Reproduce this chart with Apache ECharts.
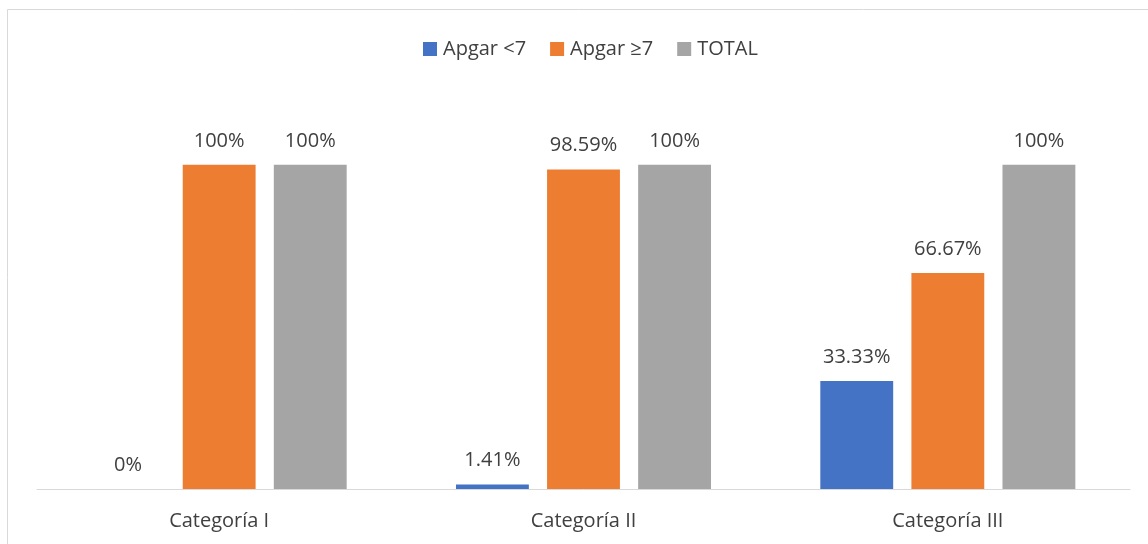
<!DOCTYPE html>
<html>
<head>
<meta charset="utf-8">
<script src="https://cdn.jsdelivr.net/npm/echarts@6/dist/echarts.min.js"></script>
<style>
  html, body { margin: 0; padding: 0; background: #fff; }
  #chart { width: 1148px; height: 544px; }
</style>
</head>
<body>
<div id="chart"></div>
<script>
// Categories and series values (percentages)
const categories = ['Categoría I', 'Categoría II', 'Categoría III'];
const apgarBajo = [0, 1.41, 33.33];
const apgarNormal = [100, 98.59, 66.67];
const total = [100, 100, 100];
const seriesNames = ['Apgar <7', 'Apgar ≥7', 'TOTAL'];
const colors = ['#4472C4', '#ED7D31', '#A5A5A5'];

const FONT = 'Open Sans';
const TEXT = '#404040';
const SIZE = 20;

const chart = echarts.init(document.getElementById('chart'), null, { renderer: 'canvas' });

function barSeries(name, data, color) {
  return {
    name: name,
    type: 'bar',
    data: data,
    barGap: '25%',
    barCategoryGap: '30%',
    itemStyle: { color: color },
    label: {
      show: true,
      position: 'top',
      distance: 14,
      color: TEXT,
      fontFamily: FONT,
      fontSize: SIZE,
      formatter: p => p.value + '%'
    }
  };
}

chart.setOption({
  animation: false,
  color: colors,
  textStyle: { fontFamily: FONT },
  graphic: [{
    type: 'rect',
    shape: { x: 7.5, y: 9.5, width: 1160, height: 560 },
    style: { fill: 'none', stroke: '#D9D9D9', lineWidth: 1 },
    silent: true
  }],
  legend: {
    top: 34,
    left: 418,
    itemWidth: 14,
    itemHeight: 14,
    itemGap: 24,
    itemStyle: { borderWidth: 0 },
    icon: 'rect',
    textStyle: { color: TEXT, fontSize: SIZE, fontFamily: FONT, padding: [0, 0, 0, 1] },
    data: seriesNames
  },
  grid: { left: 37, right: 18, top: 100, bottom: 55, containLabel: false },
  xAxis: {
    type: 'category',
    data: categories,
    axisLine: { lineStyle: { color: '#D9D9D9', width: 1 } },
    axisTick: { show: false },
    axisLabel: { color: TEXT, fontSize: SIZE, fontFamily: FONT, margin: 22 }
  },
  yAxis: {
    type: 'value',
    min: 0,
    max: 120,
    interval: 20,
    show: false,
    splitLine: { show: false }
  },
  series: [
    barSeries(seriesNames[0], apgarBajo, colors[0]),
    barSeries(seriesNames[1], apgarNormal, colors[1]),
    barSeries(seriesNames[2], total, colors[2])
  ]
});
</script>
</body>
</html>
